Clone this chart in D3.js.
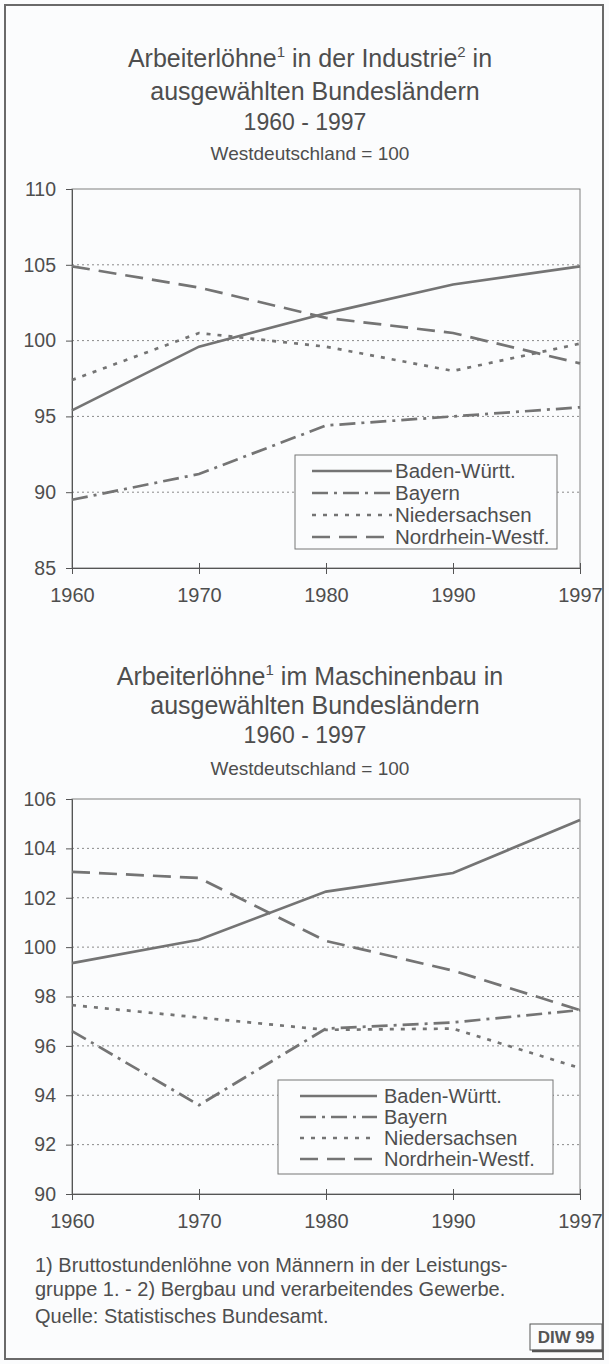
<!DOCTYPE html>
<html>
<head>
<meta charset="utf-8">
<script src="https://cdn.jsdelivr.net/npm/d3@7"></script>
<style>
  body { margin: 0; background: #fbfcfd; }
  svg { display: block; font-family: "Liberation Sans", Arial, sans-serif; }
</style>
</head>
<body>
<svg id="chart" width="609" height="1364"></svg>
<script>
var years = ["1960", "1970", "1980", "1990", "1997"];
var seriesNames = ["Baden-Württ.", "Bayern", "Niedersachsen", "Nordrhein-Westf."];

// Industrie (Westdeutschland = 100)
var indBW = [95.4, 99.6, 101.8, 103.7, 104.9];
var indBY = [89.5, 91.2, 94.4, 95.0, 95.6];
var indNI = [97.4, 100.5, 99.6, 98.0, 99.8];
var indNW = [104.9, 103.5, 101.5, 100.5, 98.5];
var indTicks = [85, 90, 95, 100, 105, 110];

// Maschinenbau
var mbBW = [99.35, 100.3, 102.25, 103.0, 105.15];
var mbBY = [96.6, 93.6, 96.7, 96.95, 97.45];
var mbNI = [97.65, 97.15, 96.65, 96.7, 95.1];
var mbNW = [103.05, 102.8, 100.25, 99.05, 97.45];
var mbTicks = [90, 92, 94, 96, 98, 100, 102, 104, 106];

var dashes = [null, "16,6,3,6", "4,7", "18,9"];
var lineCol = "#747474", textCol = "#4e4e4e", gridCol = "#8a8a8a";

var svg = d3.select("#chart");

/* Rahmen */
svg.append("rect")
    .attr("x", 5).attr("y", 5).attr("width", 598).attr("height", 1354)
    .attr("fill", "#fbfcfd").attr("stroke", "#6a6a6a").attr("stroke-width", 2);

function drawChart(opt) {
  var g = svg.append("g");
  var x = d3.scalePoint().domain(years).range([72, 580]);
  var y = d3.scaleLinear().domain([opt.ticks[0], opt.ticks[opt.ticks.length - 1]])
      .range([opt.bottom, opt.top]);

  /* Titel */
  var t1 = g.append("text").attr("x", 310).attr("y", opt.titleY[0])
      .attr("text-anchor", "middle").attr("font-size", 25).attr("fill", textCol);
  opt.title1.forEach(function(p) {
    if (p.sup) {
      t1.append("tspan").attr("font-size", 15).attr("dy", -10).text(p.sup);
      t1.append("tspan").attr("dy", 10).text(p.t);
    } else {
      t1.append("tspan").text(p.t);
    }
  });
  g.append("text").attr("x", 315).attr("y", opt.titleY[1])
      .attr("text-anchor", "middle").attr("font-size", 25).attr("fill", textCol)
      .text("ausgewählten Bundesländern");
  g.append("text").attr("x", 305).attr("y", opt.titleY[2])
      .attr("text-anchor", "middle").attr("font-size", 23).attr("fill", textCol)
      .text("1960 - 1997");
  g.append("text").attr("x", 310).attr("y", opt.titleY[3])
      .attr("text-anchor", "middle").attr("font-size", 19).attr("fill", textCol)
      .text("Westdeutschland = 100");

  /* Gitter */
  g.append("g").selectAll("line")
    .data(opt.ticks.slice(1, -1))
    .enter().append("line")
      .attr("x1", 72).attr("x2", 580)
      .attr("y1", function(d) { return y(d); })
      .attr("y2", function(d) { return y(d); })
      .attr("stroke", gridCol).attr("stroke-width", 1)
      .attr("stroke-dasharray", "2,3");

  /* Plotrahmen */
  g.append("rect")
      .attr("x", 72).attr("y", opt.top).attr("width", 508).attr("height", opt.bottom - opt.top)
      .attr("fill", "none").attr("stroke", "#808080").attr("stroke-width", 1);

  /* Y-Achse */
  var ya = g.append("g").attr("transform", "translate(72,0)")
      .call(d3.axisLeft(y).tickValues(opt.ticks).tickSize(6).tickPadding(10));
  ya.select(".domain").attr("stroke", "#555");
  ya.selectAll(".tick line").attr("stroke", "#555");
  ya.selectAll("text").attr("font-size", 19.5).attr("fill", textCol)
      .attr("font-family", "Liberation Sans, Arial, sans-serif");

  /* X-Achse */
  var xa = g.append("g").attr("transform", "translate(0," + opt.bottom + ")")
      .call(d3.axisBottom(x).tickSize(6).tickPadding(14));
  xa.select(".domain").attr("stroke", "#555");
  xa.selectAll(".tick line").attr("stroke", "#555").attr("y1", -5);
  xa.selectAll("text").attr("font-size", 20).attr("fill", textCol)
      .attr("font-family", "Liberation Sans, Arial, sans-serif");

  /* Linien */
  var line = d3.line()
      .x(function(d, i) { return x(years[i]); })
      .y(function(d) { return y(d); });

  g.append("g").selectAll("path")
    .data(opt.series)
    .enter().append("path")
      .attr("d", line)
      .attr("fill", "none")
      .attr("stroke", lineCol)
      .attr("stroke-width", 2.7)
      .attr("stroke-dasharray", function(d, i) { return dashes[i]; });

  /* Legende */
  var L = opt.legend;
  g.append("rect")
      .attr("x", L.x).attr("y", L.y).attr("width", L.w).attr("height", L.h)
      .attr("fill", "#fbfcfd").attr("stroke", "#777").attr("stroke-width", 1);
  var items = g.append("g").selectAll("g")
    .data(seriesNames)
    .enter().append("g")
      .attr("transform", function(d, i) { return "translate(0," + (L.y + L.first + i * L.step) + ")"; });
  items.append("line")
      .attr("x1", L.x + L.s0).attr("x2", L.x + L.s1)
      .attr("stroke", lineCol).attr("stroke-width", 2.7)
      .attr("stroke-dasharray", function(d, i) { return dashes[i]; });
  items.append("text")
      .attr("x", L.x + L.tx).attr("dy", "0.35em")
      .attr("font-size", L.fs).attr("fill", textCol)
      .text(function(d) { return d; });
}

drawChart({
  title1: [{t: "Arbeiterlöhne"}, {sup: "1", t: " in der Industrie"}, {sup: "2", t: " in"}],
  titleY: [67, 100, 130, 160],
  ticks: indTicks,
  top: 189, bottom: 568,
  series: [indBW, indBY, indNI, indNW],
  legend: {x: 295, y: 455, w: 262, h: 94, first: 16, step: 22, s0: 17, s1: 97, tx: 100, fs: 20.5}
});

drawChart({
  title1: [{t: "Arbeiterlöhne"}, {sup: "1", t: " im Maschinenbau in"}],
  titleY: [685, 714, 743, 775],
  ticks: mbTicks,
  top: 799, bottom: 1194,
  series: [mbBW, mbBY, mbNI, mbNW],
  legend: {x: 278, y: 1080, w: 275, h: 94, first: 16, step: 21, s0: 22, s1: 99, tx: 106, fs: 20}
});

/* Fussnoten */
var notes = ["1) Bruttostundenlöhne von Männern in der Leistungs-",
             "gruppe 1. - 2) Bergbau und verarbeitendes Gewerbe."];
svg.append("g").selectAll("text")
  .data(notes)
  .enter().append("text")
    .attr("x", 35).attr("y", function(d, i) { return 1272 + i * 24; })
    .attr("font-size", 20).attr("fill", textCol)
    .text(function(d) { return d; });
svg.append("text")
    .attr("x", 35).attr("y", 1323)
    .attr("font-size", 20).attr("fill", textCol)
    .text("Quelle: Statistisches Bundesamt.");

svg.append("rect")
    .attr("x", 530).attr("y", 1324).attr("width", 72).attr("height", 26)
    .attr("fill", "none").attr("stroke", "#555").attr("stroke-width", 1);
svg.append("line")
    .attr("x1", 532).attr("x2", 603).attr("y1", 1351).attr("y2", 1351)
    .attr("stroke", "#555").attr("stroke-width", 2.5);
svg.append("text")
    .attr("x", 566).attr("y", 1343)
    .attr("text-anchor", "middle").attr("font-size", 17).attr("font-weight", "bold")
    .attr("fill", "#555")
    .text("DIW 99");
</script>
</body>
</html>
